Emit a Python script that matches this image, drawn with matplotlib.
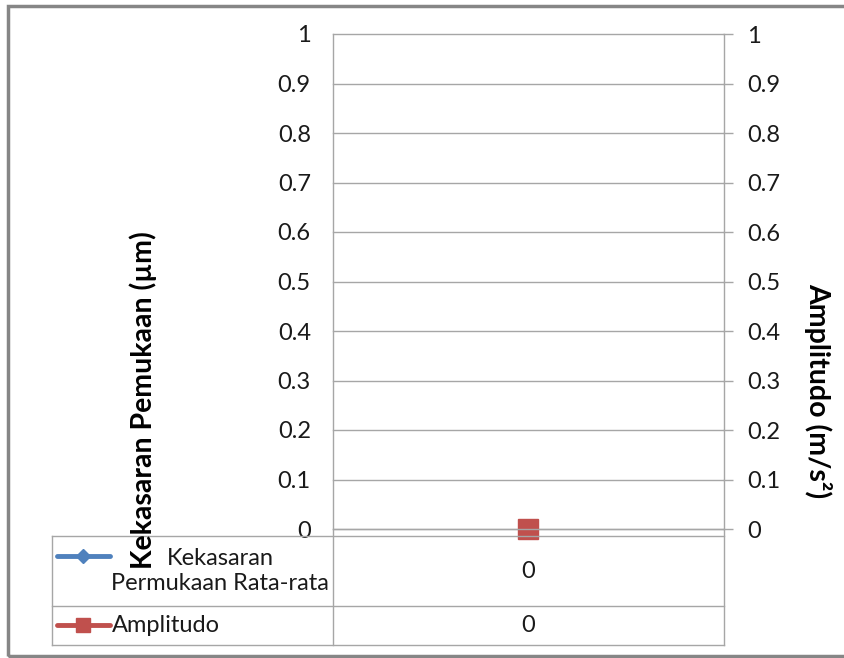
import matplotlib
matplotlib.use('Agg')
import matplotlib.pyplot as plt
from matplotlib.lines import Line2D
from matplotlib.patches import Rectangle
from matplotlib import transforms

# ---- data ----
categories = ['']
roughness = [0]
amplitude = [0]
series_names = ['Kekasaran\nPermukaan Rata-rata', 'Amplitudo']
yticks = [0, 0.1, 0.2, 0.3, 0.4, 0.5, 0.6, 0.7, 0.8, 0.9, 1.0]
ytick_labels = ['0', '0.1', '0.2', '0.3', '0.4', '0.5', '0.6', '0.7', '0.8', '0.9', '1']
left_label = 'Kekasaran Pemukaan (µm)'
right_label = 'Amplitudo (m/s²)'

BLUE = '#4F81BD'
RED = '#C0504D'
GRID = '#a6a6a6'
TXT = '#1a1a1a'
FONT = 'Lato'
FS = 17
FS_TITLE = 20.5

plt.rcParams['font.family'] = [FONT, 'DejaVu Sans']

W, H = 845, 658
fig = plt.figure(figsize=(W / 100, H / 100), dpi=100)
fig.patch.set_facecolor('white')


def fx(px):
    return px / W


def fy(py):
    return 1 - py / H


def fline(x0, y0, x1, y1, **kw):
    fig.add_artist(Line2D([fx(x0), fx(x1)], [fy(y0), fy(y1)],
                          transform=fig.transFigure, **kw))


# outer frame
fig.add_artist(Rectangle((fx(8), fy(656)), fx(860) - fx(8), fy(6) - fy(656),
                         transform=fig.transFigure, fill=False,
                         edgecolor='#868686', lw=2.5))

ax = fig.add_axes([fx(333), fy(529), fx(723) - fx(333), fy(34) - fy(529)])
x = list(range(len(categories)))
ax.set_xlim(-0.5, len(categories) - 0.5)
ax.set_ylim(0, 1)
ax.plot(x, roughness, color=BLUE, marker='D', markersize=9, lw=3, zorder=3, clip_on=False)
ax.plot(x, amplitude, color=RED, marker='s', markersize=14, lw=3, zorder=4, clip_on=False)
ax.set_xticks([])
ax.set_yticks(yticks)
ax.set_yticklabels(ytick_labels, fontsize=FS, color=TXT)
ax.tick_params(axis='y', length=0, pad=16)
ax.yaxis.grid(True, color=GRID, lw=1)
for gl in ax.get_ygridlines():
    gl.set_clip_on(False)
ax.set_axisbelow(True)
for s in ax.spines.values():
    s.set_visible(False)

ax2 = ax.twinx()
ax2.set_ylim(0, 1)
ax2.set_yticks(yticks)
ax2.set_yticklabels(ytick_labels, fontsize=FS, color=TXT)
ax2.tick_params(axis='y', length=7.2, width=1, color=GRID, pad=10)
for s in ax2.spines.values():
    s.set_visible(False)

# vertical axis lines extending through the data table
fline(333, 34, 333, 645, color=GRID, lw=1)
fline(724, 34, 724, 645, color=GRID, lw=1)
fline(333, 529, 724, 529, color=GRID, lw=1, zorder=0.5)

# data table
for yy in (536, 606, 645):
    fline(52, yy, 724, yy, color=GRID, lw=1)
fline(52, 536, 52, 645, color=GRID, lw=1)

# legend keys in table
fig.add_artist(Line2D([fx(57), fx(110)], [fy(556), fy(556)], transform=fig.transFigure,
                      color=BLUE, lw=3.5, solid_capstyle='round'))
fig.add_artist(Line2D([fx(83)], [fy(556)], transform=fig.transFigure,
                      color=BLUE, marker='D', markersize=7, lw=0))
fig.add_artist(Line2D([fx(57), fx(110)], [fy(625), fy(625)], transform=fig.transFigure,
                      color=RED, lw=3.5, solid_capstyle='round'))
fig.add_artist(Line2D([fx(83)], [fy(625)], transform=fig.transFigure,
                      color=RED, marker='s', markersize=10, lw=0))

fig.text(fx(220), fy(571), series_names[0], ha='center', va='center',
         fontsize=FS, color=TXT, linespacing=1.25)
fig.text(fx(112), fy(626), series_names[1], ha='left', va='center',
         fontsize=FS, color=TXT)

blend = transforms.blended_transform_factory(ax.transData, fig.transFigure)
for i in x:
    ax.text(i, fy(572), f'{roughness[i]:g}', transform=blend, ha='center', va='center',
            fontsize=FS, color=TXT)
    ax.text(i, fy(626), f'{amplitude[i]:g}', transform=blend, ha='center', va='center',
            fontsize=FS, color=TXT)

# axis titles
fig.text(fx(143), fy(400), left_label, rotation=90, ha='center', va='center',
         fontsize=FS_TITLE, fontweight='bold', color='black')
fig.text(fx(818), fy(391), right_label, rotation=-90, ha='center', va='center',
         fontsize=FS_TITLE, fontweight='bold', color='black')

fig.savefig('out.png', dpi=100)
